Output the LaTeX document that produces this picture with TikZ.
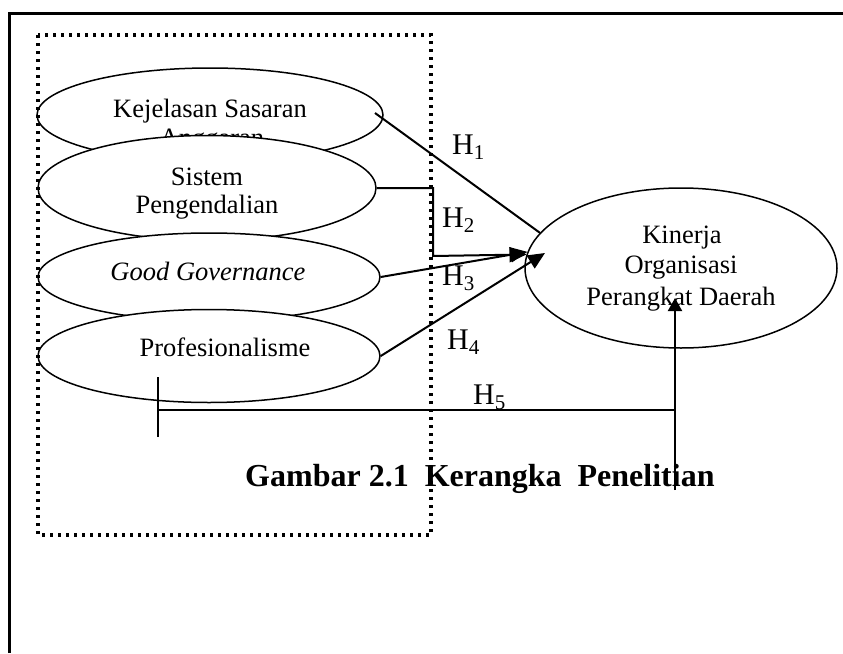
\documentclass[tikz,border=0pt]{standalone}
\usepackage{fontspec}
\setmainfont{Liberation Serif}
\usetikzlibrary{shapes.geometric,arrows.meta}
\begin{document}
\begin{tikzpicture}[x=1pt,y=-1pt,
  ell/.style={ellipse,draw,line width=1.5pt,fill=white,inner sep=0pt},
  lbl/.style={font=\fontsize{26.5}{30}\selectfont,anchor=base,inner sep=0pt},
  hl/.style={font=\fontsize{30}{32}\selectfont,anchor=base west,inner sep=0pt},
  conn/.style={line width=2pt},
  arr/.style={line width=2pt,-{Triangle[length=17pt,width=15pt]}},
  dotbox/.style={line width=3.5pt,dash pattern=on 3pt off 5pt},
  frame/.style={line width=2.7pt}]
\useasboundingbox (0,0) rectangle (843,653);
% outer frame (open on right and bottom)
\draw[frame] (9.7,653) -- (9.7,13.3) -- (843,13.3);
% left ellipses
\node[ell,minimum width=346pt,minimum height=94pt] (e1) at (210,115) {};
\node[lbl] (t1a) at (210,117) {Kejelasan Sasaran};
\node[lbl] (t1b) at (212,146) {Anggaran};
\node[ell,minimum width=338pt,minimum height=105pt] (e2) at (207,188) {};
\node[lbl] (t2a) at (207,185) {Sistem};
\node[lbl] (t2b) at (207,213) {Pengendalian};
\node[ell,minimum width=342pt,minimum height=88pt] (e3) at (209,277) {};
\node[lbl,font=\fontsize{26.5}{30}\selectfont\itshape] (t3) at (208,280) {Good Governance};
\node[ell,minimum width=342pt,minimum height=93pt] (e4) at (209,356) {};
\node[lbl] (t4) at (225,356) {Profesionalisme};
% right ellipse
\node[ell,minimum width=312pt,minimum height=160pt] (k) at (681,268) {};
\node[lbl] (k1) at (682,243) {Kinerja};
\node[lbl] (k2) at (681,273) {Organisasi};
\node[lbl] (k3) at (681,305) {Perangkat Daerah};
% caption
\node[font=\fontsize{32}{36}\selectfont\bfseries,anchor=base west,inner sep=0pt] (cap) at (245,486) {Gambar 2.1\ \ Kerangka\ \ Penelitian};
% connectors
\coordinate (h1s) at (375,113);
\coordinate (t4tip) at (545,253);
\coordinate (h2c1) at (433,188);
\coordinate (h2c2) at (433,256);
\draw[conn] (h1s) -- (k.166);
\draw[arr] (e2.east) -- (h2c1) -- (h2c2) -- (k.175.6);
\draw[arr] (e3.east) -- (k.174);
\draw[arr] (e4.east) -- (t4tip);
% H5
\coordinate (tk1) at (158,377);
\coordinate (tk2) at (158,437);
\coordinate (tkm) at (158,410);
\coordinate (h5c) at (675,410);
\coordinate (h5b) at (675,490);
\coordinate (h5t) at (675,298);
\draw[line width=1.3pt] (tk1) -- (tk2);
\draw[line width=1.5pt] (tkm) -- (h5c);
\draw[line width=2pt,-{Triangle[length=13pt,width=14pt]}] (h5b) -- (h5t);
% labels
\node[hl] (H1) at (452,154) {H\textsubscript{1}};
\node[hl] (H2) at (442,227) {H\textsubscript{2}};
\node[hl] (H3) at (442,285) {H\textsubscript{3}};
\node[hl] (H4) at (447,349) {H\textsubscript{4}};
\node[hl] (H5) at (473,404) {H\textsubscript{5}};
% dotted box
\draw[dotbox] (38,35) rectangle (431,535);
\end{tikzpicture}
\end{document}
